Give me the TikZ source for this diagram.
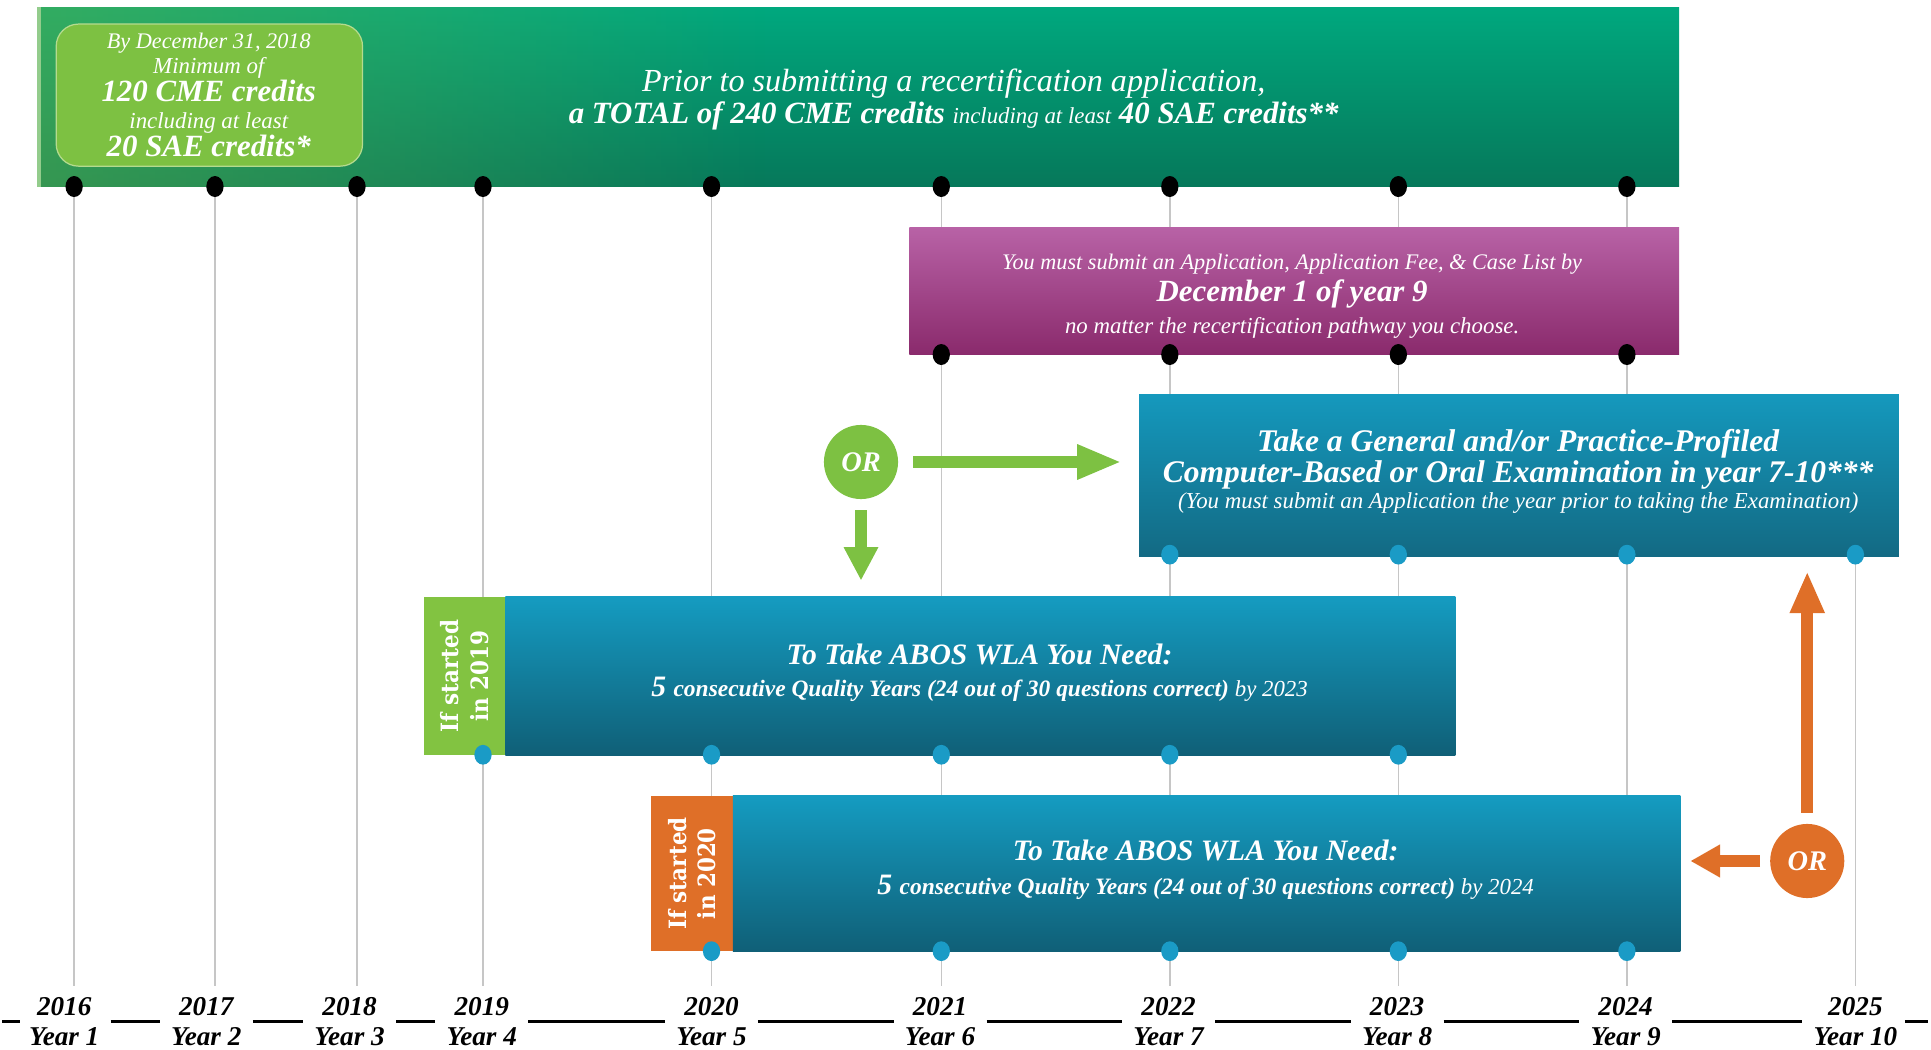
\documentclass[tikz,border=0pt]{standalone}
\usepackage{fontspec}
\setmainfont{Liberation Serif}
\newfontfamily\slabfont[FakeStretch=0.9]{DejaVu Serif}
\usetikzlibrary{arrows.meta,fadings,shapes.geometric}
\pgfdeclarelayer{background}
\pgfsetlayers{background,main}
\newcommand{\myfs}[1]{\fontsize{#1}{#1}\selectfont}
\definecolor{bannertop}{HTML}{00A87E}
\definecolor{bannerbot}{HTML}{06785A}
\definecolor{glow}{HTML}{5DB04A}
\definecolor{stripgreen}{HTML}{93CC8C}
\definecolor{lgreen}{HTML}{7DC142}
\definecolor{lgreenedge}{HTML}{B5DB8E}
\definecolor{tabgreen}{HTML}{82C341}
\definecolor{magtop}{HTML}{B862A6}
\definecolor{magbot}{HTML}{8A2A6C}
\definecolor{bluetop}{HTML}{159FC5}
\definecolor{bluebot}{HTML}{0E4B5E}
\definecolor{exambot}{HTML}{125A70}
\definecolor{orangec}{HTML}{DF6F28}
\definecolor{dotblue}{HTML}{1A9BC6}
\definecolor{gridgray}{HTML}{C6C6C6}
\pgfdeclareverticalshading{bluebox}{100bp}{color(0bp)=(bluebot); color(8bp)=(bluebot); color(78bp)=(bluetop); color(100bp)=(bluetop)}
\pgfdeclareverticalshading{examshade}{100bp}{color(0bp)=(exambot); color(8bp)=(exambot); color(82bp)=(bluetop); color(100bp)=(bluetop)}
\tikzfading[name=leftglow, left color=transparent!45, right color=transparent!100]
\begin{document}
\begin{tikzpicture}[x=1pt,y=1pt,
  box/.style={rectangle, inner sep=0, anchor=north west},
  wt/.style={text=white, inner sep=0, anchor=mid},
  blackdot/.style={ellipse, fill=black, minimum width=14pt, minimum height=17pt, inner sep=0},
  bluedot/.style={ellipse, fill=dotblue, minimum width=14pt, minimum height=16pt, inner sep=0},
  yearline/.style={draw=gridgray, line width=1.1pt},
  ornode/.style={circle, minimum size=60pt, inner sep=0, text=white, font=\myfs{23}\bfseries\itshape},
  fatarrow/.style={line width=10pt},
  yearlabel/.style={align=center, inner sep=0, font=\fontsize{22}{25}\selectfont\bfseries\itshape},
  seg/.style={draw=black, line width=2pt},
  tabtext/.style={rotate=90, text=white, align=center, inner sep=0, font=\slabfont\fontsize{19.3}{24}\selectfont\bfseries}]
\useasboundingbox (0,0) rectangle (1563.2,-850);

% ---------- boxes ----------
\node[box, minimum width=1329pt, minimum height=145pt, top color=bannertop, bottom color=bannerbot] (banner) at (30,-6) {};
\fill[glow, path fading=leftglow] (30,-6) rectangle (620,-151);
\fill[stripgreen] (30,-6) rectangle (33,-151);
\node[box, minimum width=248pt, minimum height=115pt, fill=lgreen, draw=lgreenedge, line width=1pt, rounded corners=18pt] (credbox) at (45,-19) {};

\node[box, minimum width=623pt, minimum height=103pt, top color=magtop, bottom color=magbot] (mag) at (736,-184) {};
\node[box, minimum width=615pt, minimum height=131pt, shading=examshade] (exam) at (922,-319) {};

\node[box, minimum width=66pt, minimum height=128pt, fill=tabgreen] (tab1) at (343,-483) {};
\node[box, minimum width=769pt, minimum height=128pt, shading=bluebox] (wla1) at (409,-483) {};
\node[box, minimum width=66pt, minimum height=126pt, fill=orangec] (tab2) at (527,-644) {};
\node[box, minimum width=767pt, minimum height=126pt, shading=bluebox] (wla2) at (593,-644) {};

% ---------- dots ----------
\node[blackdot] (bd1) at (60,-151) {};
\node[blackdot] (bd2) at (174,-151) {};
\node[blackdot] (bd3) at (289,-151) {};
\node[blackdot] (bd4) at (391,-151) {};
\node[blackdot] (bd5) at (576,-151) {};
\node[blackdot] (bd6) at (762,-151) {};
\node[blackdot] (bd7) at (947,-151) {};
\node[blackdot] (bd8) at (1132,-151) {};
\node[blackdot] (bd9) at (1317,-151) {};

\node[blackdot] (md6) at (762,-287) {};
\node[blackdot] (md7) at (947,-287) {};
\node[blackdot] (md8) at (1132,-287) {};
\node[blackdot] (md9) at (1317,-287) {};

\node[bluedot] (ed7) at (947,-449) {};
\node[bluedot] (ed8) at (1132,-449) {};
\node[bluedot] (ed9) at (1317,-449) {};
\node[bluedot] (ed10) at (1502,-449) {};

\node[bluedot] (wa4) at (391,-611) {};
\node[bluedot] (wa5) at (576,-611) {};
\node[bluedot] (wa6) at (762,-611) {};
\node[bluedot] (wa7) at (947,-611) {};
\node[bluedot] (wa8) at (1132,-611) {};

\node[bluedot] (wb5) at (576,-770) {};
\node[bluedot] (wb6) at (762,-770) {};
\node[bluedot] (wb7) at (947,-770) {};
\node[bluedot] (wb8) at (1132,-770) {};
\node[bluedot] (wb9) at (1317,-770) {};

% ---------- year lines ----------
\coordinate (yb1) at (60,-798);
\coordinate (yb2) at (174,-798);
\coordinate (yb3) at (289,-798);
\coordinate (yb4) at (391,-798);
\coordinate (yb5) at (576,-798);
\coordinate (yb6) at (762,-798);
\coordinate (yb7) at (947,-798);
\coordinate (yb8) at (1132,-798);
\coordinate (yb9) at (1317,-798);
\coordinate (yb10) at (1502,-798);
\begin{pgfonlayer}{background}
\draw[yearline] (bd1.center) -- (yb1);
\draw[yearline] (bd2.center) -- (yb2);
\draw[yearline] (bd3.center) -- (yb3);
\draw[yearline] (bd4.center) -- (yb4);
\draw[yearline] (bd5.center) -- (yb5);
\draw[yearline] (bd6.center) -- (yb6);
\draw[yearline] (bd7.center) -- (yb7);
\draw[yearline] (bd8.center) -- (yb8);
\draw[yearline] (bd9.center) -- (yb9);
\draw[yearline] (ed10.center) -- (yb10);
\end{pgfonlayer}

% ---------- texts ----------
\node[wt] (c1) at (169,-37) {\myfs{18}\itshape By December 31, 2018};
\node[wt] (c2) at (169,-57) {\myfs{18.5}\itshape Minimum of};
\node[wt] (c3) at (169,-80) {\myfs{25}\bfseries\itshape 120 CME credits};
\node[wt] (c4) at (169,-102) {\myfs{18.5}\itshape including at least};
\node[wt] (c5) at (169,-124) {\myfs{25}\bfseries\itshape 20 SAE credits*};

\node[wt] (p1) at (772,-72) {\myfs{26}\itshape Prior to submitting a recertification application,};
\node[wt] (p2) at (772,-98) {\myfs{25}\bfseries\itshape a TOTAL of 240 CME credits {\myfs{18.5}\mdseries including at least} 40 SAE credits**};

\node[wt] (m1) at (1046,-216) {\myfs{18}\itshape You must submit an Application, Application Fee, \& Case List by};
\node[wt] (m2) at (1046,-241.5) {\myfs{25}\bfseries\itshape December 1 of year 9};
\node[wt] (m3) at (1046,-267.5) {\myfs{18.5}\itshape no matter the recertification pathway you choose.};

\node[wt] (e1) at (1229,-363) {\myfs{25.5}\bfseries\itshape Take a General and/or Practice-Profiled};
\node[wt] (e2) at (1229,-388) {\myfs{25.5}\bfseries\itshape Computer-Based or Oral Examination in year 7-10***};
\node[wt] (e3) at (1229,-409.5) {\myfs{18.5}\itshape (You must submit an Application the year prior to taking the Examination)};

\node[wt] (w1a) at (793,-535.5) {\myfs{24}\bfseries\itshape To Take ABOS WLA You Need:};
\node[wt] (w1b) at (793,-561.5) {\bfseries\itshape\myfs{24}5 \myfs{19}consecutive Quality Years (24 out of 30 questions correct) \mdseries\myfs{18.5}by 2023};
\node[wt] (w2a) at (976,-694.5) {\myfs{24}\bfseries\itshape To Take ABOS WLA You Need:};
\node[wt] (w2b) at (976,-722) {\bfseries\itshape\myfs{24}5 \myfs{19}consecutive Quality Years (24 out of 30 questions correct) \mdseries\myfs{18.5}by 2024};

\node[tabtext] (t1) at (tab1.center) {If started\\in 2019};
\node[tabtext] (t2) at (tab2.center) {If started\\in 2020};

% ---------- OR circles and arrows ----------
\node[ornode, fill=lgreen] (or1) at (697,-374) {OR};
\node[ornode, fill=orangec] (or2) at (1463,-697) {OR};
\draw[fatarrow, lgreen, -{Triangle[length=36pt,width=26pt]}, shorten <=12pt, shorten >=14pt] (or1) -- (or1 -| exam.west);
\draw[fatarrow, lgreen, -{Triangle[length=27pt,width=26pt]}, shorten <=9pt, shorten >=13pt] (or1) -- (or1 |- wla1.north);
\draw[fatarrow, orangec, -{Triangle[length=34pt,width=26pt]}, shorten <=9pt, shorten >=12pt] (or2) -- (or2 |- exam.south);
\draw[fatarrow, orangec, -{Triangle[length=24pt,width=25pt]}, shorten <=8pt, shorten >=8pt] (or2) -- (or2 -| wla2.east);

% ---------- year labels ----------
\node[yearlabel] (lab1) at (52,-827) {2016\\Year 1};
\node[yearlabel] (lab2) at (167,-827) {2017\\Year 2};
\node[yearlabel] (lab3) at (283,-827) {2018\\Year 3};
\node[yearlabel] (lab4) at (390,-827) {2019\\Year 4};
\node[yearlabel] (lab5) at (576,-827) {2020\\Year 5};
\node[yearlabel] (lab6) at (761,-827) {2021\\Year 6};
\node[yearlabel] (lab7) at (946,-827) {2022\\Year 7};
\node[yearlabel] (lab8) at (1131,-827) {2023\\Year 8};
\node[yearlabel] (lab9) at (1316,-827) {2024\\Year 9};
\node[yearlabel] (lab10) at (1502,-827) {2025\\Year 10};

\coordinate (segstart) at (2,-827);
\coordinate (segend) at (1561,-827);
\draw[seg, shorten >=7pt] (segstart) -- (lab1.west);
\draw[seg, shorten <=9pt, shorten >=9pt] (lab1.east) -- (lab2.west);
\draw[seg, shorten <=9pt, shorten >=9pt] (lab2.east) -- (lab3.west);
\draw[seg, shorten <=9pt, shorten >=9pt] (lab3.east) -- (lab4.west);
\draw[seg, shorten <=9pt, shorten >=9pt] (lab4.east) -- (lab5.west);
\draw[seg, shorten <=9pt, shorten >=9pt] (lab5.east) -- (lab6.west);
\draw[seg, shorten <=9pt, shorten >=9pt] (lab6.east) -- (lab7.west);
\draw[seg, shorten <=9pt, shorten >=9pt] (lab7.east) -- (lab8.west);
\draw[seg, shorten <=9pt, shorten >=9pt] (lab8.east) -- (lab9.west);
\draw[seg, shorten <=9pt, shorten >=9pt] (lab9.east) -- (lab10.west);
\draw[seg, shorten <=6pt] (lab10.east) -- (segend);
\end{tikzpicture}
\end{document}
